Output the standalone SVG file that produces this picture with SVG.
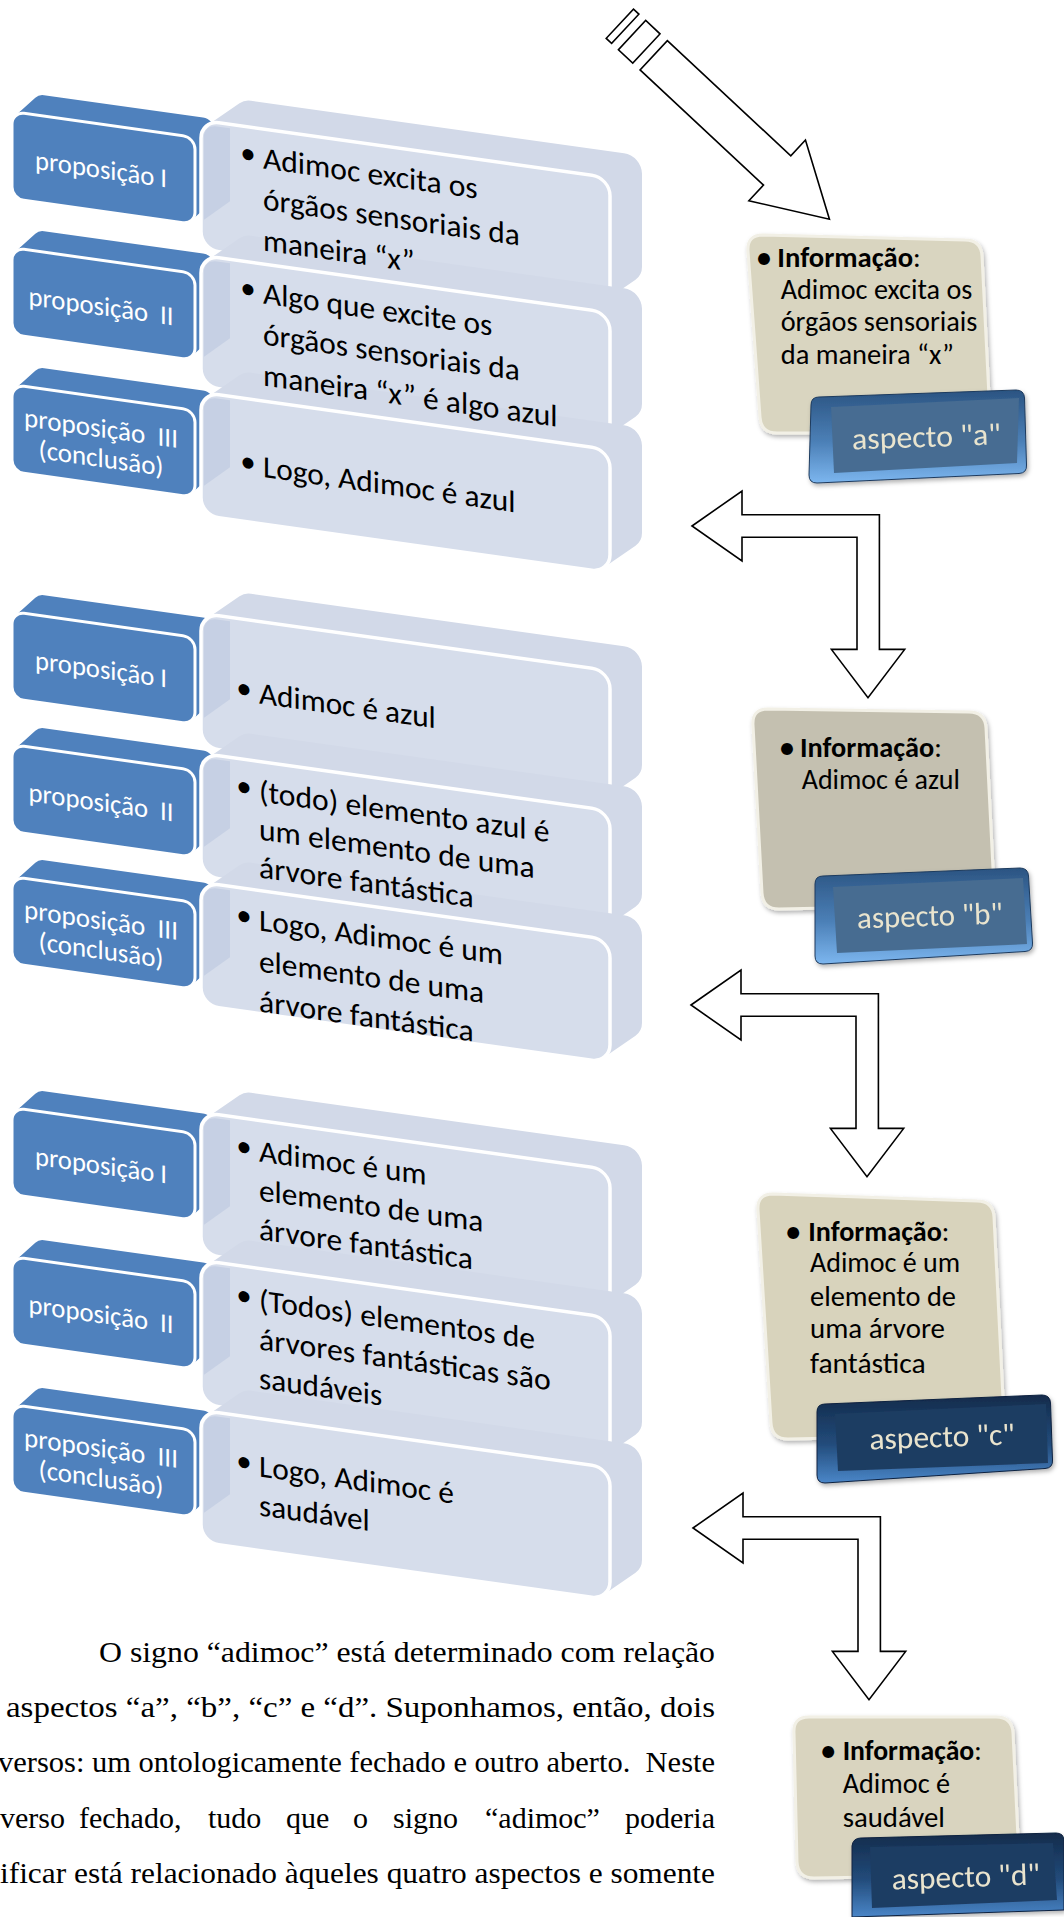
<svg xmlns="http://www.w3.org/2000/svg" width="1064" height="1917" viewBox="0 0 1064 1917">
<style>
  .bh { fill: #4F81BD; }
  .bf { fill: #4F81BD; stroke: #FFFFFF; stroke-width: 3; }
  .lh { fill: #D2D9E8; }
  .lf { fill: #D6DDEB; stroke: #FFFFFF; stroke-width: 3.5; }
  .ls { fill: #C6D0E4; }
  .bt { font-family: Carlito, Lato, "Open Sans", sans-serif; font-size: 27px; fill: #FFFFFF; text-anchor: middle; white-space: pre; }
  .lt { font-family: Carlito, Lato, "Open Sans", sans-serif; font-size: 31px; fill: #000000; }
  .bul { font-family: Carlito, Lato, "Open Sans", sans-serif; font-size: 31px; fill: #000000; text-anchor: middle; }
  .info { stroke: #F2F0E6; stroke-width: 3; filter: url(#sh); }
  .it { font-family: Carlito, Lato, "Open Sans", sans-serif; font-size: 28px; fill: #000000; }
  .ibul { font-family: Carlito, Lato, "Open Sans", sans-serif; font-size: 28px; font-weight: bold; fill: #000000; text-anchor: middle; }
  .asp-t { font-family: Carlito, Lato, "Open Sans", sans-serif; font-size: 31px; fill: #E9E4CE; }
  .arrow { fill: #FFFFFF; stroke: #000000; stroke-width: 1.6; stroke-linejoin: miter; }
  .para { font-family: "Liberation Serif", "Times New Roman", serif; font-size: 30px; fill: #000000; white-space: pre; }
</style>
<defs>
  <!-- extruded label block: back hull and front face -->
  <path id="bhull" d="M12,75 L12,12 A12,12 0 0 1 15.3,3.7 L35.3,-17.3 A12,12 0 0 1 44,-21 L203,-21 A12,12 0 0 1 215,-9 L215,54 A12,12 0 0 1 211.7,62.3 L191.7,83.3 A12,12 0 0 1 183,87 L24,87 A12,12 0 0 1 12,75 Z"/>
  <rect id="bfront" x="12" y="0" width="183" height="87" rx="12"/>
  <!-- bent block arrow, origin at the left-pointing tip -->
  <path id="bent" d="M0,0 L50,-35 L50,-11.3 L187.4,-11.3 L187.4,123.4 L212.7,123.4 L176,171.7 L139.4,123.4 L165,123.4 L165,11.3 L50,11.3 L50,35 Z"/>
  <linearGradient id="bevelMid" x1="0" y1="0" x2="0" y2="1">
    <stop offset="0" stop-color="#2B5482"/>
    <stop offset="0.55" stop-color="#4B7FB6"/>
    <stop offset="1" stop-color="#7CB6EF"/>
  </linearGradient>
  <linearGradient id="bevelDark" x1="0" y1="0" x2="0" y2="1">
    <stop offset="0" stop-color="#132B4B"/>
    <stop offset="0.55" stop-color="#224B7A"/>
    <stop offset="1" stop-color="#4A86C8"/>
  </linearGradient>
  <filter id="sh" x="-10%" y="-10%" width="125%" height="125%">
    <feDropShadow dx="1.5" dy="2.5" stdDeviation="2" flood-color="#000000" flood-opacity="0.3"/>
  </filter>
</defs>

<!-- ===== Syllogism 1 ===== -->
<g id="set1" transform="skewY(8)">
  <g id="s1-label1"><use href="#bhull" class="bh" y="110"/><use href="#bfront" class="bf" y="110"/></g>
  <g id="s1-label2"><use href="#bhull" class="bh" y="246"/><use href="#bfront" class="bf" y="246"/></g>
  <g id="s1-label3"><use href="#bhull" class="bh" y="383"/><use href="#bfront" class="bf" y="383"/></g>
  <g id="s1-body1" transform="translate(0,92)">
    <path class="lh" d="M201,111 L201,18 A18,18 0 0 1 207.5,4.1 L239.5,-22.4 A18,18 0 0 1 251,-26.5 L624,-26.5 A18,18 0 0 1 642,-8.5 L642,84.5 A18,18 0 0 1 635.5,98.4 L603.5,124.9 A18,18 0 0 1 592,129 L219,129 A18,18 0 0 1 201,111 Z"/>
    <rect class="lf" x="201" y="0" width="409" height="129" rx="18"/>
    <path class="ls" d="M204,14 Q206,5 215,4 L230,4 L230,77 L204,99 Z"/>
  </g>
  <g id="s1-body2" transform="translate(0,227)">
    <path class="lh" d="M201,113 L201,18 A18,18 0 0 1 207.5,4.1 L239.5,-22.4 A18,18 0 0 1 251,-26.5 L624,-26.5 A18,18 0 0 1 642,-8.5 L642,86.5 A18,18 0 0 1 635.5,100.4 L603.5,126.9 A18,18 0 0 1 592,131 L219,131 A18,18 0 0 1 201,113 Z"/>
    <rect class="lf" x="201" y="0" width="409" height="131" rx="18"/>
    <path class="ls" d="M204,14 Q206,5 215,4 L230,4 L230,79 L204,101 Z"/>
  </g>
  <g id="s1-body3" transform="translate(0,364)">
    <path class="lh" d="M201,105 L201,18 A18,18 0 0 1 207.5,4.1 L239.5,-22.4 A18,18 0 0 1 251,-26.5 L624,-26.5 A18,18 0 0 1 642,-8.5 L642,78.5 A18,18 0 0 1 635.5,92.4 L603.5,118.9 A18,18 0 0 1 592,123 L219,123 A18,18 0 0 1 201,105 Z"/>
    <rect class="lf" x="201" y="0" width="409" height="123" rx="18"/>
    <path class="ls" d="M204,14 Q206,5 215,4 L230,4 L230,71 L204,93 Z"/>
  </g>
  <g id="s1-text">
    <text class="bt" x="101" y="164" textLength="132" lengthAdjust="spacingAndGlyphs">proposição I</text>
    <text class="bt" x="101" y="301" textLength="145" lengthAdjust="spacingAndGlyphs">proposição  II</text>
    <text class="bt" x="101" y="423" textLength="154" lengthAdjust="spacingAndGlyphs">proposição  III</text>
    <text class="bt" x="101" y="453" textLength="125" lengthAdjust="spacingAndGlyphs">(conclusão)</text>
    <text class="bul" x="248" y="128.5">•</text>
    <text class="lt" x="263" y="131.5" textLength="214.7" lengthAdjust="spacingAndGlyphs">Adimoc excita os</text>
    <text class="lt" x="263" y="172.5" textLength="256.7" lengthAdjust="spacingAndGlyphs">órgãos sensoriais da</text>
    <text class="lt" x="263" y="213.5" textLength="151.6" lengthAdjust="spacingAndGlyphs">maneira “x”</text>
    <text class="bul" x="248" y="263.5">•</text>
    <text class="lt" x="263" y="266.5" textLength="229.4" lengthAdjust="spacingAndGlyphs">Algo que excite os</text>
    <text class="lt" x="263" y="307.5" textLength="256.7" lengthAdjust="spacingAndGlyphs">órgãos sensoriais da</text>
    <text class="lt" x="263" y="348.5" textLength="294.6" lengthAdjust="spacingAndGlyphs">maneira “x” é algo azul</text>
    <text class="bul" x="248" y="437">•</text>
    <text class="lt" x="263" y="440" textLength="252.5" lengthAdjust="spacingAndGlyphs">Logo, Adimoc é azul</text>
  </g>
</g>

<!-- ===== Syllogism 2 ===== -->
<g id="set2" transform="skewY(8)">
  <g id="s2-label1"><use href="#bhull" class="bh" y="610"/><use href="#bfront" class="bf" y="610"/></g>
  <g id="s2-label2"><use href="#bhull" class="bh" y="743"/><use href="#bfront" class="bf" y="743"/></g>
  <g id="s2-label3"><use href="#bhull" class="bh" y="875"/><use href="#bfront" class="bf" y="875"/></g>
  <g id="s2-body1" transform="translate(0,585)">
    <path class="lh" d="M201,116 L201,18 A18,18 0 0 1 207.5,4.1 L239.5,-22.4 A18,18 0 0 1 251,-26.5 L624,-26.5 A18,18 0 0 1 642,-8.5 L642,89.5 A18,18 0 0 1 635.5,103.4 L603.5,129.9 A18,18 0 0 1 592,134 L219,134 A18,18 0 0 1 201,116 Z"/>
    <rect class="lf" x="201" y="0" width="409" height="134" rx="18"/>
    <path class="ls" d="M204,14 Q206,5 215,4 L230,4 L230,82 L204,104 Z"/>
  </g>
  <g id="s2-body2" transform="translate(0,725)">
    <path class="lh" d="M201,105 L201,18 A18,18 0 0 1 207.5,4.1 L239.5,-22.4 A18,18 0 0 1 251,-26.5 L624,-26.5 A18,18 0 0 1 642,-8.5 L642,78.5 A18,18 0 0 1 635.5,92.4 L603.5,118.9 A18,18 0 0 1 592,123 L219,123 A18,18 0 0 1 201,105 Z"/>
    <rect class="lf" x="201" y="0" width="409" height="123" rx="18"/>
    <path class="ls" d="M204,14 Q206,5 215,4 L230,4 L230,71 L204,93 Z"/>
  </g>
  <g id="s2-body3" transform="translate(0,854)">
    <path class="lh" d="M201,105 L201,18 A18,18 0 0 1 207.5,4.1 L239.5,-22.4 A18,18 0 0 1 251,-26.5 L624,-26.5 A18,18 0 0 1 642,-8.5 L642,78.5 A18,18 0 0 1 635.5,92.4 L603.5,118.9 A18,18 0 0 1 592,123 L219,123 A18,18 0 0 1 201,105 Z"/>
    <rect class="lf" x="201" y="0" width="409" height="123" rx="18"/>
    <path class="ls" d="M204,14 Q206,5 215,4 L230,4 L230,71 L204,93 Z"/>
  </g>
  <g id="s2-text">
    <text class="bt" x="101" y="664" textLength="132" lengthAdjust="spacingAndGlyphs">proposição I</text>
    <text class="bt" x="101" y="797" textLength="145" lengthAdjust="spacingAndGlyphs">proposição  II</text>
    <text class="bt" x="101" y="915" textLength="154" lengthAdjust="spacingAndGlyphs">proposição  III</text>
    <text class="bt" x="101" y="945" textLength="125" lengthAdjust="spacingAndGlyphs">(conclusão)</text>
    <text class="bul" x="244" y="664">•</text>
    <text class="lt" x="259" y="667" textLength="176.8" lengthAdjust="spacingAndGlyphs">Adimoc é azul</text>
    <text class="bul" x="244" y="762">•</text>
    <text class="lt" x="259" y="765" textLength="290.4" lengthAdjust="spacingAndGlyphs">(todo) elemento azul é</text>
    <text class="lt" x="259" y="803" textLength="275.7" lengthAdjust="spacingAndGlyphs">um elemento de uma</text>
    <text class="lt" x="259" y="841" textLength="214.6" lengthAdjust="spacingAndGlyphs">árvore fantástica</text>
    <text class="bul" x="244" y="891">•</text>
    <text class="lt" x="259" y="894" textLength="244" lengthAdjust="spacingAndGlyphs">Logo, Adimoc é um</text>
    <text class="lt" x="259" y="935" textLength="225" lengthAdjust="spacingAndGlyphs">elemento de uma</text>
    <text class="lt" x="259" y="975" textLength="214.6" lengthAdjust="spacingAndGlyphs">árvore fantástica</text>
  </g>
</g>

<!-- ===== Syllogism 3 ===== -->
<g id="set3" transform="skewY(8)">
  <g id="s3-label1"><use href="#bhull" class="bh" y="1106"/><use href="#bfront" class="bf" y="1106"/></g>
  <g id="s3-label2"><use href="#bhull" class="bh" y="1255"/><use href="#bfront" class="bf" y="1255"/></g>
  <g id="s3-label3"><use href="#bhull" class="bh" y="1403"/><use href="#bfront" class="bf" y="1403"/></g>
  <g id="s3-body1" transform="translate(0,1084)">
    <path class="lh" d="M201,124 L201,18 A18,18 0 0 1 207.5,4.1 L239.5,-22.4 A18,18 0 0 1 251,-26.5 L624,-26.5 A18,18 0 0 1 642,-8.5 L642,97.5 A18,18 0 0 1 635.5,111.4 L603.5,137.9 A18,18 0 0 1 592,142 L219,142 A18,18 0 0 1 201,124 Z"/>
    <rect class="lf" x="201" y="0" width="409" height="142" rx="18"/>
    <path class="ls" d="M204,14 Q206,5 215,4 L230,4 L230,90 L204,112 Z"/>
  </g>
  <g id="s3-body2" transform="translate(0,1232)">
    <path class="lh" d="M201,126 L201,18 A18,18 0 0 1 207.5,4.1 L239.5,-22.4 A18,18 0 0 1 251,-26.5 L624,-26.5 A18,18 0 0 1 642,-8.5 L642,99.5 A18,18 0 0 1 635.5,113.4 L603.5,139.9 A18,18 0 0 1 592,144 L219,144 A18,18 0 0 1 201,126 Z"/>
    <rect class="lf" x="201" y="0" width="409" height="144" rx="18"/>
    <path class="ls" d="M204,14 Q206,5 215,4 L230,4 L230,92 L204,114 Z"/>
  </g>
  <g id="s3-body3" transform="translate(0,1382)">
    <path class="lh" d="M201,114 L201,18 A18,18 0 0 1 207.5,4.1 L239.5,-22.4 A18,18 0 0 1 251,-26.5 L624,-26.5 A18,18 0 0 1 642,-8.5 L642,87.5 A18,18 0 0 1 635.5,101.4 L603.5,127.9 A18,18 0 0 1 592,132 L219,132 A18,18 0 0 1 201,114 Z"/>
    <rect class="lf" x="201" y="0" width="409" height="132" rx="18"/>
    <path class="ls" d="M204,14 Q206,5 215,4 L230,4 L230,80 L204,102 Z"/>
  </g>
  <g id="s3-text">
    <text class="bt" x="101" y="1160" textLength="132" lengthAdjust="spacingAndGlyphs">proposição I</text>
    <text class="bt" x="101" y="1309" textLength="145" lengthAdjust="spacingAndGlyphs">proposição  II</text>
    <text class="bt" x="101" y="1443" textLength="154" lengthAdjust="spacingAndGlyphs">proposição  III</text>
    <text class="bt" x="101" y="1473" textLength="125" lengthAdjust="spacingAndGlyphs">(conclusão)</text>
    <text class="bul" x="244" y="1122">•</text>
    <text class="lt" x="259" y="1125" textLength="167.5" lengthAdjust="spacingAndGlyphs">Adimoc é um</text>
    <text class="lt" x="259" y="1164" textLength="224.3" lengthAdjust="spacingAndGlyphs">elemento de uma</text>
    <text class="lt" x="259" y="1203" textLength="213.8" lengthAdjust="spacingAndGlyphs">árvore fantástica</text>
    <text class="bul" x="244" y="1271">•</text>
    <text class="lt" x="259" y="1274" textLength="276" lengthAdjust="spacingAndGlyphs">(Todos) elementos de</text>
    <text class="lt" x="259" y="1313" textLength="291.7" lengthAdjust="spacingAndGlyphs">árvores fantásticas são</text>
    <text class="lt" x="259" y="1352" textLength="123.3" lengthAdjust="spacingAndGlyphs">saudáveis</text>
    <text class="bul" x="244" y="1437">•</text>
    <text class="lt" x="259" y="1440" textLength="194.9" lengthAdjust="spacingAndGlyphs">Logo, Adimoc é</text>
    <text class="lt" x="259" y="1479" textLength="110.7" lengthAdjust="spacingAndGlyphs">saudável</text>
  </g>
</g>

<!-- ===== Connectors ===== -->
<g id="connectors">
  <g id="arrow-in" transform="translate(653.7,55.3) rotate(43)">
    <rect class="arrow" x="-46.3" y="-20" width="7.4" height="40"/>
    <rect class="arrow" x="-29.6" y="-20" width="19.6" height="40"/>
    <path class="arrow" d="M0,-20 L168.8,-20 L168.8,-41.5 L240.3,0 L168.8,41.5 L168.8,20 L0,20 Z"/>
  </g>
  <use id="arrow-ab" href="#bent" class="arrow" x="692" y="526"/>
  <use id="arrow-bc" href="#bent" class="arrow" x="691" y="1005"/>
  <use id="arrow-cd" href="#bent" class="arrow" x="693" y="1528"/>
</g>

<!-- ===== Information cards ===== -->
<g id="info-a">
  <path class="info" fill="#D9D5C0" d="M763,235 L965,240 Q981,240 982,256 L990,417 Q991,433 975,433 L777,433 Q761,433 760,417 L748,251 Q747,235 763,235 Z"/>
  <text class="ibul" x="764" y="267">•</text>
  <text class="it" x="777.3" y="267" textLength="143.4" lengthAdjust="spacingAndGlyphs"><tspan font-weight="bold">Informação</tspan>:</text>
  <text class="it" x="780.7" y="299" textLength="191.6" lengthAdjust="spacingAndGlyphs">Adimoc excita os</text>
  <text class="it" x="780.7" y="331" textLength="196.7" lengthAdjust="spacingAndGlyphs">órgãos sensoriais</text>
  <text class="it" x="780.7" y="364" textLength="173.3" lengthAdjust="spacingAndGlyphs">da maneira “x”</text>
</g>
<g id="aspect-a" filter="url(#sh)">
  <path fill="url(#bevelMid)" stroke="#1E3B5E" stroke-width="1" d="M819,397 L1016,390 Q1024,390 1024.5,398 L1026.5,465 Q1027,473 1019,473.5 L817,483 Q809,483 809,475 L811,405 Q811,397 819,397 Z"/>
  <path fill="#466C92" d="M831,407 L1019,398 L1017,463 L834,473 Z"/>
  <text class="asp-t" x="852" y="447" textLength="149" lengthAdjust="spacingAndGlyphs" transform="rotate(-2 926 440)">aspecto "a"</text>
</g>

<g id="info-b">
  <path class="info" fill="#C4C0B0" d="M768,709 L969,712 Q985,712 986,728 L994,889 Q995,905 979,905 L779,909 Q763,909 762,893 L753,725 Q752,709 768,709 Z"/>
  <text class="ibul" x="787" y="757">•</text>
  <text class="it" x="800" y="757" textLength="141.7" lengthAdjust="spacingAndGlyphs"><tspan font-weight="bold">Informação</tspan>:</text>
  <text class="it" x="801.7" y="789" textLength="158.3" lengthAdjust="spacingAndGlyphs">Adimoc é azul</text>
</g>
<g id="aspect-b" filter="url(#sh)">
  <path fill="url(#bevelMid)" stroke="#1E3B5E" stroke-width="1" d="M823,876 L1020,868 Q1028,868 1028.5,876 L1032.5,943 Q1033,951 1025,951.5 L823,964 Q815,964 815,956 L815,884 Q815,876 823,876 Z"/>
  <path fill="#476C91" d="M833,887 L1023,878 L1027,944 L837,953 Z"/>
  <text class="asp-t" x="857" y="926" textLength="146" lengthAdjust="spacingAndGlyphs" transform="rotate(-2 930 918)">aspecto "b"</text>
</g>

<g id="info-c">
  <path class="info" fill="#D8D3BC" d="M773,1194 L977,1201 Q993,1201 994,1217 L1004,1419 Q1005,1435 989,1435 L788,1439 Q772,1439 771,1423 L758,1210 Q757,1194 773,1194 Z"/>
  <text class="ibul" x="793.3" y="1240.5">•</text>
  <text class="it" x="808.3" y="1240.5" textLength="141" lengthAdjust="spacingAndGlyphs"><tspan font-weight="bold">Informação</tspan>:</text>
  <text class="it" x="810" y="1272.3" textLength="150" lengthAdjust="spacingAndGlyphs">Adimoc é um</text>
  <text class="it" x="810" y="1305.6" textLength="146" lengthAdjust="spacingAndGlyphs">elemento de</text>
  <text class="it" x="810" y="1338.4" textLength="135" lengthAdjust="spacingAndGlyphs">uma árvore</text>
  <text class="it" x="810" y="1372.6" textLength="115.7" lengthAdjust="spacingAndGlyphs">fantástica</text>
</g>
<g id="aspect-c" filter="url(#sh)">
  <path fill="url(#bevelDark)" stroke="#0F2240" stroke-width="1" d="M825,1404 L1042,1395 Q1050,1395 1050.5,1403 L1052.5,1460 Q1053,1468 1045,1468.5 L825,1483 Q817,1483 817,1475 L817,1412 Q817,1404 825,1404 Z"/>
  <path fill="#1F3D62" d="M835,1414 L1046,1404 L1048,1463 L838,1471 Z"/>
  <text class="asp-t" x="869.3" y="1447" textLength="145.7" lengthAdjust="spacingAndGlyphs" transform="rotate(-2 942 1438)">aspecto "c"</text>
</g>

<g id="info-d">
  <path class="info" fill="#D9D4BF" d="M809,1717 L996,1717 Q1012,1717 1013,1733 L1019,1859 Q1020,1875 1004,1875 L814,1878 Q798,1878 797,1862 L794,1733 Q793,1717 809,1717 Z"/>
  <text class="ibul" x="828.3" y="1760">•</text>
  <text class="it" x="842.7" y="1760" textLength="139" lengthAdjust="spacingAndGlyphs"><tspan font-weight="bold">Informação</tspan>:</text>
  <text class="it" x="842.7" y="1793.3" textLength="107.3" lengthAdjust="spacingAndGlyphs">Adimoc é</text>
  <text class="it" x="842.7" y="1826.7" textLength="102.3" lengthAdjust="spacingAndGlyphs">saudável</text>
</g>
<g id="aspect-d" filter="url(#sh)">
  <path fill="url(#bevelDark)" stroke="#0F2240" stroke-width="1" d="M861,1838 L1056,1833 Q1064,1833 1064,1841 L1064,1910 L852,1917 L852,1846 Q853,1838 861,1838 Z"/>
  <path fill="#1F3C63" d="M870,1847 L1053,1843 L1057,1900 L872,1908 Z"/>
  <text class="asp-t" x="891.7" y="1887" textLength="148.3" lengthAdjust="spacingAndGlyphs" transform="rotate(-2 966 1878)">aspecto "d"</text>
</g>

<!-- ===== Body text ===== -->
<g id="paragraph">
  <text class="para" x="99" y="1662" textLength="616" lengthAdjust="spacingAndGlyphs">O signo “adimoc” está determinado com relação</text>
  <text class="para" x="6" y="1717" textLength="709" lengthAdjust="spacingAndGlyphs">aspectos “a”, “b”, “c” e “d”. Suponhamos, então, dois</text>
  <text class="para" x="-2" y="1772" textLength="717" lengthAdjust="spacingAndGlyphs">versos: um ontologicamente fechado e outro aberto.  Neste</text>
  <text class="para" x="0" y="1828">verso</text>
  <text class="para" x="79" y="1828">fechado,</text>
  <text class="para" x="208" y="1828">tudo</text>
  <text class="para" x="286" y="1828">que</text>
  <text class="para" x="353" y="1828">o</text>
  <text class="para" x="393" y="1828">signo</text>
  <text class="para" x="485" y="1828">“adimoc”</text>
  <text class="para" x="715" y="1828" text-anchor="end">poderia</text>
  <text class="para" x="0" y="1883" textLength="715" lengthAdjust="spacingAndGlyphs">ificar está relacionado àqueles quatro aspectos e somente</text>
</g>
</svg>
